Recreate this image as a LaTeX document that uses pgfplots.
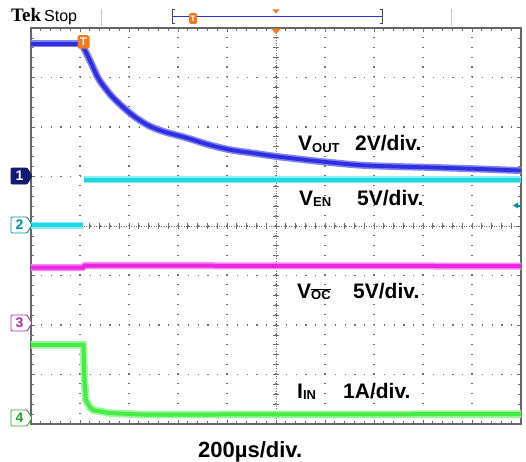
\documentclass[border=0pt]{standalone}
\usepackage{pgfplots}
\pgfplotsset{compat=1.18}
\usepackage{fontspec}
\setmainfont{Liberation Sans}
\newfontfamily\tekfont{Liberation Serif}

\definecolor{trblue}{RGB}{45,45,225}
\definecolor{trbluelt}{RGB}{130,130,242}
\definecolor{trcyan}{RGB}{30,215,228}
\definecolor{trcyanlt}{RGB}{140,238,242}
\definecolor{trmag}{RGB}{238,35,228}
\definecolor{trmaglt}{RGB}{245,140,240}
\definecolor{trgreen}{RGB}{70,235,70}
\definecolor{trgreenlt}{RGB}{160,246,160}
\definecolor{tekorange}{RGB}{242,122,30}
\definecolor{chnavy}{RGB}{20,25,115}
\definecolor{chteal}{RGB}{0,145,150}
\definecolor{chpurple}{RGB}{170,50,170}
\definecolor{chgreen}{RGB}{40,165,40}
\definecolor{gridgray}{RGB}{110,110,110}

\newcommand\lbl[1]{{\fontsize{21}{21}\selectfont\bfseries #1}}
\newcommand\sub[1]{\raisebox{-1.5pt}{\fontsize{13}{13}\selectfont\bfseries #1}}
% channel marker: y centre, fill, outline, text colour, number
\newcommand\chmark[5]{%
  \draw[fill=#2, draw=#3, line width=0.9pt, rounded corners=1pt]
    (11,#1-8) -- (27,#1-8) -- (32,#1) -- (27,#1+8) -- (11,#1+8) -- cycle;
  \node[text=#4, font=\bfseries\fontsize{14}{14}\selectfont, inner sep=0] at (19.5,#1) {#5};}

\begin{document}
\begin{tikzpicture}
\useasboundingbox (0,0) rectangle (526pt,461pt);

% centre crosshair of the graticule (pixel coordinates, y down)
\begin{scope}[x=1pt,y=-1pt,yshift=461pt]
  \draw[gridgray, line width=0.8pt, dash pattern=on 1pt off 1.5pt] (276,28) -- (276,424);
  \draw[gridgray, line width=0.8pt, dash pattern=on 1pt off 1.5pt] (31,226) -- (521,226);
  \foreach \j in {1,...,39} {
    \draw[gridgray, line width=0.8pt] (273,{28+9.9*\j}) -- (279,{28+9.9*\j});
  }
  \foreach \j in {1,...,49} {
    \draw[gridgray, line width=0.8pt] ({31+9.8*\j},223) -- ({31+9.8*\j},229);
  }
\end{scope}

\begin{axis}[
    at={(31pt,37pt)}, anchor=south west,
    scale only axis, width=490pt, height=396pt,
    xmin=-5, xmax=5, ymin=-4, ymax=4,
    xtick={-5,...,5}, ytick={-4,...,4},
    minor x tick num=4, minor y tick num=4,
    xticklabels={}, yticklabels={},
    tick align=inside,
    major tick length=4pt, minor tick length=3pt,
    tick style={gridgray, line width=0.8pt},
    grid=major,
    x grid style={gridgray, line width=1.1pt, dash pattern=on 1.1pt off 8.8pt},
    y grid style={gridgray, line width=1.1pt, dash pattern=on 1.1pt off 8.7pt},
    axis line style={draw=gray!80!black, line width=2pt},
]
% V_EN (channel 2)
\addplot[trcyanlt, line width=7pt, no marks] coordinates {(-5,0.02) (-3.94,0.02)};
\addplot[trcyan, line width=4pt, no marks] coordinates {(-5,0.02) (-3.94,0.02)};
\addplot[trcyanlt, line width=7pt, no marks] coordinates {(-3.92,0.93) (5,0.93)};
\addplot[trcyan, line width=4pt, no marks] coordinates {(-3.92,0.93) (5,0.93)};
% V_OC (channel 3)
\addplot[trmaglt, line width=7pt, no marks] coordinates {(-5,-0.84) (-3.94,-0.84) (-3.90,-0.80) (5,-0.81)};
\addplot[trmag, line width=4pt, no marks] coordinates {(-5,-0.84) (-3.94,-0.84) (-3.90,-0.80) (5,-0.81)};
% I_IN (channel 4)
\addplot[trgreenlt, line width=7.5pt, no marks] coordinates {
  (-5,-2.40) (-3.93,-2.40) (-3.91,-3.11) (-3.88,-3.52) (-3.80,-3.66)
  (-3.73,-3.72) (-3.39,-3.78) (-2.71,-3.81) (5,-3.80)};
\addplot[trgreen, line width=4pt, no marks] coordinates {
  (-5,-2.40) (-3.93,-2.40) (-3.91,-3.11) (-3.88,-3.52) (-3.80,-3.66)
  (-3.73,-3.72) (-3.39,-3.78) (-2.71,-3.81) (5,-3.80)};
% V_OUT (channel 1): flat part, then the decay
\addplot[trbluelt, line width=7pt, no marks] coordinates {(-5,3.68) (-3.97,3.68)};
\addplot[trblue, line width=3.8pt, no marks] coordinates {(-5,3.68) (-3.97,3.68)};
\addplot[trbluelt, line width=7pt, no marks, smooth, tension=0.55] coordinates {
  (-3.97,3.68) (-3.90,3.55) (-3.80,3.35) (-3.63,2.99) (-3.48,2.78)
  (-3.32,2.59) (-2.98,2.28) (-2.64,2.05) (-2.30,1.91) (-1.82,1.78) (-1.40,1.65)
  (-0.94,1.54) (-0.45,1.47) (0.05,1.40) (0.85,1.31) (1.71,1.23) (2.50,1.20)
  (3.28,1.18) (4.20,1.15) (5.00,1.12)};
\addplot[trblue, line width=3.8pt, no marks, smooth, tension=0.55] coordinates {
  (-3.97,3.68) (-3.90,3.55) (-3.80,3.35) (-3.63,2.99) (-3.48,2.78)
  (-3.32,2.59) (-2.98,2.28) (-2.64,2.05) (-2.30,1.91) (-1.82,1.78) (-1.40,1.65)
  (-0.94,1.54) (-0.45,1.47) (0.05,1.40) (0.85,1.31) (1.71,1.23) (2.50,1.20)
  (3.28,1.18) (4.20,1.15) (5.00,1.12)};
\end{axis}

% screen furniture and labels (pixel coordinates, y down)
\begin{scope}[x=1pt,y=-1pt,yshift=461pt]
  % header
  \node[anchor=base west, inner sep=0] at (11,22) {\tekfont\bfseries\fontsize{19}{19}\selectfont Tek};
  \node[anchor=base west, inner sep=0] at (44,22) {\fontsize{16}{16}\selectfont Stop};
  \draw[gray!45, line width=1pt] (101,9) -- (101,26);
  \draw[gray!45, line width=1pt] (451,9) -- (451,26);
  \draw[trblue, line width=1pt] (172,17) -- (382,17);
  \draw[gray!60!black, line width=1pt] (174.5,10) -- (172,10) -- (172,24) -- (174.5,24);
  \draw[gray!60!black, line width=1pt] (379.5,10) -- (382,10) -- (382,24) -- (379.5,24);
  \node[fill=tekorange, rounded corners=1.5pt, minimum width=8pt, minimum height=11pt,
        inner sep=0, text=white, font=\bfseries\fontsize{8}{8}\selectfont] at (193,18.5) {T};
  \fill[tekorange] (272.5,9.5) -- (279.5,9.5) -- (276,13.5) -- cycle;
  \fill[tekorange] (271,28.5) -- (281,28.5) -- (276,34) -- cycle;
  % trigger point on V_OUT
  \node[fill=tekorange, rounded corners=2pt, minimum width=12pt, minimum height=13.5pt,
        inner sep=0, text=white, font=\bfseries\fontsize{11}{11}\selectfont] at (83.5,42) {T};
  % trigger level arrow
  \fill[chteal] (513,205.5) -- (518,202.5) -- (518,208.5) -- cycle;
  \draw[chteal, line width=1pt] (517,205.5) -- (522,205.5);
  % channel markers
  \chmark{176}{chnavy}{chnavy}{white}{1}
  \chmark{225}{white}{chteal}{chteal}{2}
  \chmark{323}{white}{chpurple}{chpurple}{3}
  \chmark{418}{white}{chgreen}{chgreen}{4}
  % labels
  \node[anchor=base west, inner sep=0] at (298,151) {\lbl{V}\sub{OUT}};
  \node[anchor=base west, inner sep=0] at (355,151) {\lbl{2V/div.}};
  \node[anchor=base west, inner sep=0] at (299,205) {\lbl{V}\sub{EN}};
  \node[anchor=base west, inner sep=0] at (357,205) {\lbl{5V/div.}};
  \node[anchor=base west, inner sep=0] at (297,298) {\lbl{V}\sub{$\overline{\mbox{OC}}$}};
  \node[anchor=base west, inner sep=0] at (353,298) {\lbl{5V/div.}};
  \node[anchor=base west, inner sep=0] at (297,398) {\lbl{I}\sub{IN}};
  \node[anchor=base west, inner sep=0] at (343,398) {\lbl{1A/div.}};
  \node[anchor=base west, inner sep=0] at (198,457) {{\fontsize{22}{22}\selectfont\bfseries 200µs/div.}};
\end{scope}
\end{tikzpicture}
\end{document}
